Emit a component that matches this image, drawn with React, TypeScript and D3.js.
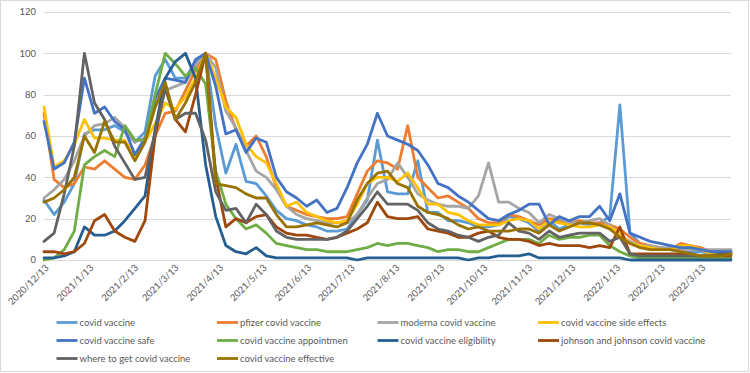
import * as d3 from "d3";
import { useEffect, useRef } from "react";

// weekly points starting 2020/12/13
const firstWeek = "2020/12/13";
const weekCount = 69;

const xTickLabels = [
  "2020/12/13", "2021/1/13", "2021/2/13", "2021/3/13", "2021/4/13", "2021/5/13",
  "2021/6/13", "2021/7/13", "2021/8/13", "2021/9/13", "2021/10/13", "2021/11/13",
  "2021/12/13", "2022/1/13", "2022/2/13", "2022/3/13",
];
const yTicks = [0, 20, 40, 60, 80, 100, 120];

const seriesNames = [
  "covid vaccine", "pfizer covid vaccine", "moderna covid vaccine", "covid vaccine side effects",
  "covid vaccine safe", "covid vaccine appointmen", "covid vaccine eligibility",
  "johnson and johnson covid vaccine", "where to get covid vaccine", "covid vaccine effective",
];
const seriesColors = [
  "#5B9BD5", "#ED7D31", "#A5A5A5", "#FFC000", "#4472C4",
  "#70AD47", "#255E91", "#9E480E", "#636363", "#997300",
];

const covidVaccine = [
  29, 22, 28, 37, 61, 63, 63, 65, 62, 57, 62, 89, 97, 88, 88, 96, 100, 65,
  42, 56, 38, 37, 31, 24, 20, 19, 17, 16, 14, 14, 15, 22, 29, 58, 33,
  32, 32, 48, 23, 23, 19, 19, 18, 16, 16, 17, 21, 20, 18, 14, 19, 15,
  17, 18, 17, 18, 21, 75, 13, 8, 6, 6, 5, 4, 4, 4, 3, 4, 4,
];
const pfizer = [
  71, 39, 35, 37, 45, 44, 48, 44, 40, 39, 46, 60, 71, 72, 82, 92, 100, 97,
  77, 63, 55, 60, 50, 35, 26, 24, 22, 21, 20, 20, 21, 32, 43, 48, 47,
  44, 65, 40, 35, 30, 31, 28, 25, 20, 18, 18, 22, 21, 19, 17, 20, 19,
  18, 19, 18, 18, 17, 15, 11, 8, 7, 6, 5, 8, 7, 6, 4, 3, 3,
];
const moderna = [
  30, 34, 39, 48, 60, 65, 66, 69, 64, 57, 59, 74, 82, 84, 86, 94, 100, 93,
  72, 64, 53, 43, 40, 34, 26, 22, 20, 19, 18, 18, 18, 22, 30, 37, 39,
  47, 40, 32, 29, 27, 26, 26, 25, 31, 47, 28, 28, 25, 23, 18, 22, 20,
  18, 18, 19, 20, 17, 12, 9, 7, 7, 6, 6, 5, 5, 5, 5, 5, 5,
];
const sideEffects = [
  74, 45, 48, 56, 68, 59, 59, 58, 58, 50, 57, 66, 76, 73, 79, 88, 100, 88,
  74, 69, 56, 50, 47, 37, 26, 28, 23, 21, 19, 18, 19, 27, 37, 40, 40,
  38, 42, 35, 27, 27, 23, 22, 19, 17, 17, 17, 19, 20, 19, 15, 19, 18,
  17, 16, 16, 17, 16, 13, 8, 7, 6, 5, 5, 7, 7, 5, 3, 3, 3,
];
const safe = [
  67, 44, 47, 57, 88, 71, 74, 67, 63, 51, 59, 78, 88, 87, 86, 97, 100, 84,
  61, 63, 52, 59, 57, 40, 33, 30, 26, 29, 23, 25, 35, 47, 56, 71, 60,
  58, 56, 53, 46, 37, 35, 31, 28, 24, 20, 19, 22, 24, 27, 27, 17, 21,
  19, 21, 21, 26, 19, 32, 13, 11, 9, 8, 7, 6, 6, 5, 4, 4, 4,
];
const appointment = [
  0, 1, 5, 14, 46, 50, 53, 50, 65, 58, 58, 80, 100, 95, 89, 93, 85, 43,
  27, 20, 15, 17, 13, 8, 7, 6, 5, 5, 4, 4, 4, 5, 6, 8, 7,
  8, 8, 7, 6, 4, 5, 5, 4, 4, 6, 8, 10, 10, 10, 8, 12, 10,
  11, 11, 12, 12, 7, 4, 2, 1, 1, 1, 1, 1, 1, 1, 1, 1, 1,
];
const eligibility = [
  1, 1, 2, 4, 16, 12, 12, 14, 19, 25, 31, 63, 88, 96, 100, 88, 46, 21,
  7, 4, 3, 6, 2, 1, 1, 1, 1, 1, 1, 1, 1, 0, 1, 1, 1,
  1, 1, 1, 1, 1, 1, 1, 0, 1, 1, 2, 2, 2, 3, 1, 1, 1,
  1, 1, 1, 1, 1, 1, 0, 0, 0, 0, 0, 0, 0, 0, 0, 0, 0,
];
const johnson = [
  4, 4, 3, 4, 8, 19, 22, 14, 11, 9, 19, 60, 84, 68, 62, 80, 100, 40,
  16, 20, 18, 21, 22, 16, 13, 12, 12, 11, 10, 11, 13, 15, 18, 28, 21,
  20, 20, 21, 15, 14, 13, 11, 11, 13, 14, 11, 10, 10, 9, 7, 8, 7,
  7, 7, 6, 7, 6, 16, 3, 3, 3, 3, 3, 3, 3, 2, 2, 2, 2,
];
const whereToGet = [
  9, 13, 32, 55, 100, 76, 68, 55, 47, 39, 40, 62, 83, 68, 71, 71, 58, 33,
  24, 25, 18, 27, 22, 14, 11, 10, 10, 10, 10, 11, 14, 20, 26, 33, 27,
  27, 27, 24, 18, 15, 14, 12, 11, 9, 11, 12, 18, 14, 13, 10, 14, 11,
  12, 13, 13, 13, 9, 11, 3, 2, 2, 2, 2, 2, 2, 2, 2, 3, 3,
];
const effective = [
  28, 30, 34, 40, 60, 52, 67, 57, 57, 48, 57, 74, 86, 68, 76, 86, 100, 37,
  36, 35, 32, 30, 30, 22, 16, 16, 17, 18, 17, 16, 18, 29, 37, 42, 43,
  37, 35, 26, 23, 22, 20, 17, 15, 16, 14, 14, 14, 15, 15, 13, 17, 14,
  16, 18, 18, 17, 15, 11, 8, 6, 5, 5, 5, 4, 3, 2, 2, 2, 3,
];

const seriesValues = [
  covidVaccine, pfizer, moderna, sideEffects, safe,
  appointment, eligibility, johnson, whereToGet, effective,
];

const App = () => {
  const svgRef = useRef<SVGSVGElement>(null);

  useEffect(() => {
    const svg = d3.select(svgRef.current);
    svg.selectAll("*").remove();

    const width = 750;
    const height = 373;
    const margin = { top: 12, right: 19, bottom: 113, left: 44 };
    const font = "Lato, 'Open Sans', sans-serif";
    const textColor = "#595959";
    const gridColor = "#D9D9D9";

    const parse = d3.timeParse("%Y/%m/%d");
    const start = parse(firstWeek) as Date;
    const weeks = d3.range(weekCount).map((i) => d3.timeDay.offset(start, i * 7));

    const x = d3
      .scaleTime()
      .domain([weeks[0], weeks[weeks.length - 1]])
      .range([margin.left, width - margin.right]);
    const y = d3
      .scaleLinear()
      .domain([0, 120])
      .range([height - margin.bottom, margin.top]);

    // outer frame
    svg
      .append("rect")
      .attr("x", 0.5)
      .attr("y", 0.5)
      .attr("width", width - 2)
      .attr("height", height - 2)
      .attr("fill", "#fff")
      .attr("stroke", gridColor);

    // horizontal grid
    svg
      .append("g")
      .selectAll("line")
      .data(yTicks)
      .enter()
      .append("line")
      .attr("x1", margin.left)
      .attr("x2", width - margin.right)
      .attr("y1", (d) => Math.round(y(d)) + 0.5)
      .attr("y2", (d) => Math.round(y(d)) + 0.5)
      .attr("stroke", gridColor)
      .attr("stroke-width", 1);

    // y labels
    svg
      .append("g")
      .selectAll("text")
      .data(yTicks)
      .enter()
      .append("text")
      .attr("x", 36)
      .attr("y", (d) => y(d))
      .attr("dy", "0.35em")
      .attr("text-anchor", "end")
      .attr("font-family", font)
      .attr("font-size", "9.5px")
      .attr("fill", textColor)
      .text((d) => d);

    // x labels, rotated
    svg
      .append("g")
      .selectAll("text")
      .data(xTickLabels)
      .enter()
      .append("text")
      .attr(
        "transform",
        (d) => `translate(${x(parse(d) as Date) + 3}, ${height - margin.bottom + 6}) rotate(-45)`
      )
      .attr("text-anchor", "end")
      .attr("dy", "0.35em")
      .attr("font-family", font)
      .attr("font-size", "9.5px")
      .attr("fill", textColor)
      .text((d) => d);

    // series lines
    const line = d3
      .line<number>()
      .x((d, i) => x(weeks[i]))
      .y((d) => y(d));

    svg
      .append("g")
      .selectAll("path")
      .data(seriesValues)
      .enter()
      .append("path")
      .attr("d", (d) => line(d))
      .attr("fill", "none")
      .attr("stroke", (d, i) => seriesColors[i])
      .attr("stroke-width", 2.8)
      .attr("stroke-linejoin", "round")
      .attr("stroke-linecap", "round");

    // legend
    const legend = svg
      .append("g")
      .selectAll("g")
      .data(seriesNames)
      .enter()
      .append("g")
      .attr("transform", (d, i) => `translate(${56.5 + (i % 4) * 160.5}, ${322.5 + Math.floor(i / 4) * 18})`);

    legend
      .append("line")
      .attr("x1", 0)
      .attr("x2", 21)
      .attr("stroke", (d, i) => seriesColors[i])
      .attr("stroke-width", 2.8);

    legend
      .append("text")
      .attr("x", 23)
      .attr("dy", "0.35em")
      .attr("font-family", font)
      .attr("font-size", "9.5px")
      .attr("fill", textColor)
      .text((d) => d);
  }, []);

  return (
    <svg
      ref={svgRef}
      width={750}
      height={373}
      style={{ position: "absolute", left: 0, top: 0 }}
    ></svg>
  );
};

export default App;
